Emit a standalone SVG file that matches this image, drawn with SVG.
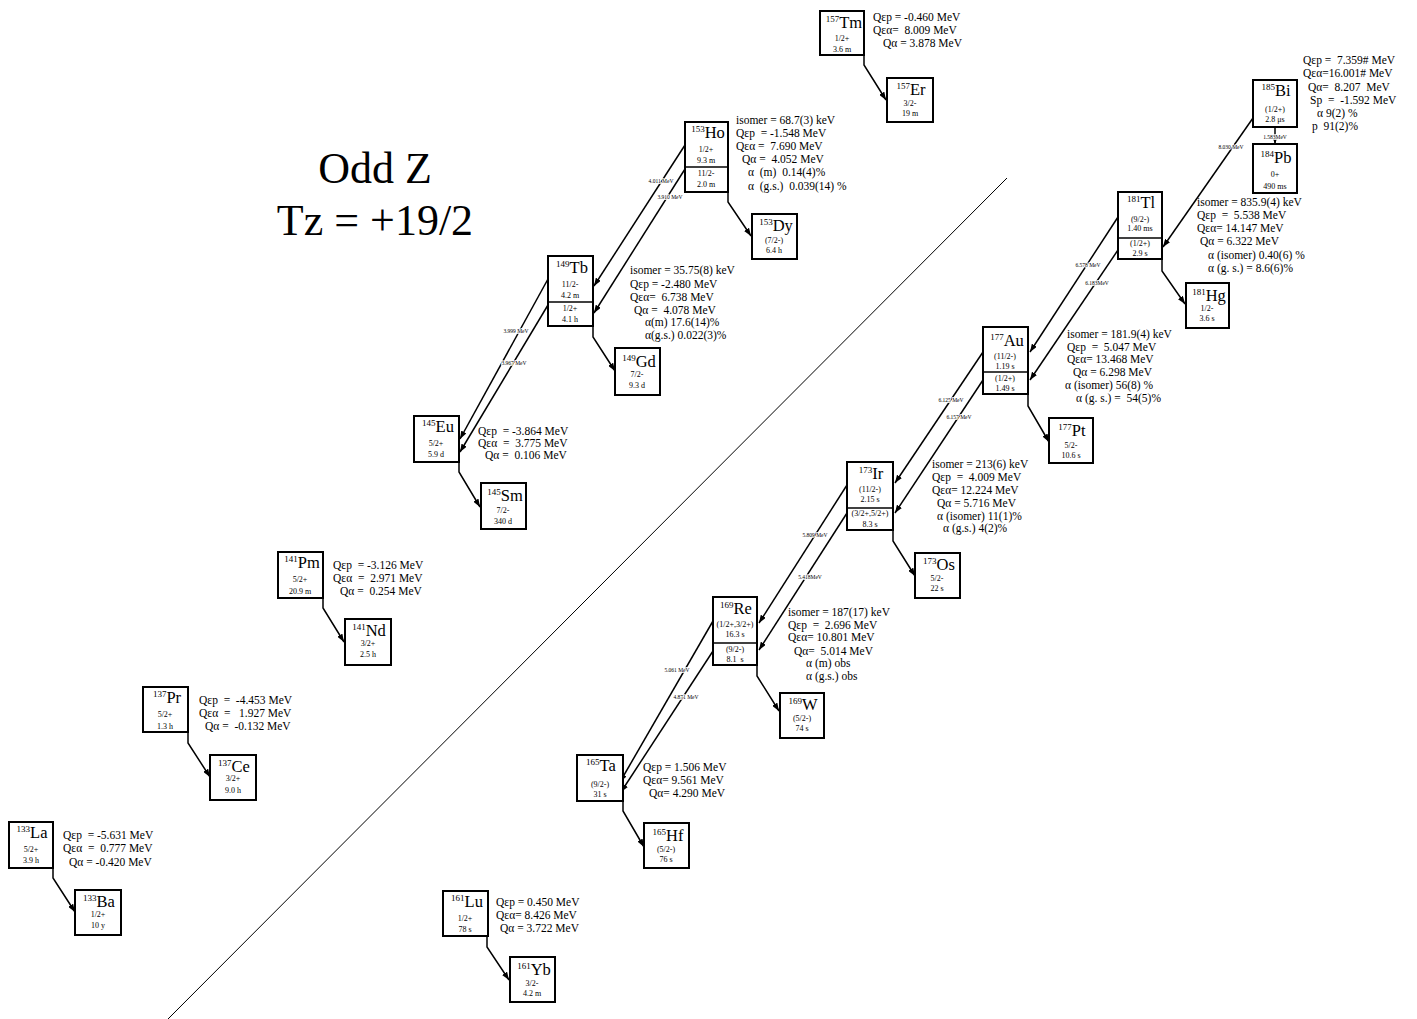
<svg xmlns="http://www.w3.org/2000/svg" width="1417" height="1019" viewBox="0 0 1417 1019">
<style>
text{font-family:"Liberation Serif","Times New Roman",serif;fill:#000;white-space:pre}
.box{fill:#fff;stroke:#000;stroke-width:2}
.dv{stroke:#000;stroke-width:1.5}
.el{font-size:16.5px;text-anchor:middle}
.ms{font-size:9px}
.sp{font-size:8px;text-anchor:middle}
.q{font-size:11.5px}
.lb{font-size:5.5px;text-anchor:middle;paint-order:stroke;stroke:#fff;stroke-width:1.5px}
.c{fill:none;stroke:#000;stroke-width:1.5;marker-end:url(#ah)}
.ref{stroke:#000;stroke-width:1}
.title{font-size:44px;text-anchor:middle}
</style>
<defs>
<marker id="ah" markerWidth="8" markerHeight="6" refX="8" refY="3" orient="auto" markerUnits="userSpaceOnUse"><path d="M0,0L8,3L0,6z" fill="#000"/></marker>
</defs>
<rect width="1417" height="1019" fill="#fff"/>
<line class="ref" x1="168" y1="1019" x2="1007" y2="178"/>
<text class="title" x="375" y="183">Odd Z</text>
<text class="title" x="375" y="235">Tz = +19/2</text>

<g id="connectors">
<polyline class="c" points="864,55 864,65 886,100"/>
<polyline class="c" points="728,192 728,202 751,236"/>
<polyline class="c" points="593,326 593,337 615,371"/>
<polyline class="c" points="459,462 459,472 480,507"/>
<polyline class="c" points="323,598 323,608 344,642"/>
<polyline class="c" points="188,732 188,743 210,777"/>
<polyline class="c" points="53,868 53,878 75,912"/>
<polyline class="c" points="487,936 487,947 509,980"/>
<polyline class="c" points="1162,259 1162,271 1185,304"/>
<polyline class="c" points="1028,394 1028,406 1049,442"/>
<polyline class="c" points="893,530 893,541 915,576"/>
<polyline class="c" points="757,665 757,676 779,711"/>
<polyline class="c" points="623,801 623,811 644,847"/>
<line class="c" x1="1275" y1="127" x2="1275" y2="144"/>
<line class="c" x1="1253" y1="118" x2="1163" y2="247"/>
<line class="c" x1="1118" y1="217" x2="1030" y2="352"/>
<line class="c" x1="1118" y1="250" x2="1030" y2="380"/>
<line class="c" x1="983" y1="352" x2="895" y2="483"/>
<line class="c" x1="983" y1="380" x2="895" y2="513"/>
<line class="c" x1="847" y1="485" x2="759" y2="623"/>
<line class="c" x1="847" y1="513" x2="759" y2="650"/>
<line class="c" x1="713" y1="621" x2="620" y2="782"/>
<line class="c" x1="713" y1="651" x2="621" y2="792"/>
<line class="c" x1="685" y1="145" x2="594" y2="286"/>
<line class="c" x1="685" y1="169" x2="594" y2="313"/>
<line class="c" x1="548" y1="279" x2="460" y2="439"/>
<line class="c" x1="548" y1="305" x2="460" y2="452"/>
<text class="lb" x="1275" y="139">1.583MeV</text>
<text class="lb" x="1231" y="149">8.030 MeV</text>
<text class="lb" x="1088" y="267">6.578 MeV</text>
<text class="lb" x="1097" y="285">6.183MeV</text>
<text class="lb" x="951" y="402">6.125 MeV</text>
<text class="lb" x="959" y="419">6.157 MeV</text>
<text class="lb" x="815" y="537">5.809 MeV</text>
<text class="lb" x="810" y="579">5.418MeV</text>
<text class="lb" x="677" y="672">5.061 MeV</text>
<text class="lb" x="686" y="699">4.871 MeV</text>
<text class="lb" x="661" y="183">4.011 MeV</text>
<text class="lb" x="670" y="199">3.910 MeV</text>
<text class="lb" x="516" y="333">3.999 MeV</text>
<text class="lb" x="514" y="365">3.967 MeV</text>
</g>

<g id="n-157Tm">
<rect class="box" x="820" y="11" width="44" height="44"/>
<text class="el" x="844" y="28"><tspan class="ms" dy="-6">157</tspan><tspan dy="6">Tm</tspan></text>
<text class="sp" x="842" y="41">1/2+</text>
<text class="sp" x="842" y="52">3.6 m</text>
<text class="q" x="873" y="21">Qεp = -0.460 MeV</text>
<text class="q" x="873" y="34">Qεα=  8.009 MeV</text>
<text class="q" x="883" y="47">Qα = 3.878 MeV</text>
</g>
<g id="n-157Er">
<rect class="box" x="887" y="78" width="46" height="44"/>
<text class="el" x="911" y="95"><tspan class="ms" dy="-6">157</tspan><tspan dy="6">Er</tspan></text>
<text class="sp" x="910" y="106">3/2-</text>
<text class="sp" x="910" y="116">19 m</text>
</g>

<g id="n-185Bi">
<rect class="box" x="1253" y="80" width="44" height="47"/>
<text class="el" x="1276" y="96"><tspan class="ms" dy="-6">185</tspan><tspan dy="6">Bi</tspan></text>
<text class="sp" x="1275" y="112">(1/2+)</text>
<text class="sp" x="1275" y="122">2.8 μs</text>
<text class="q" x="1303" y="64">Qεp =  7.359# MeV</text>
<text class="q" x="1303" y="77">Qεα=16.001# MeV</text>
<text class="q" x="1308" y="91">Qα=  8.207  MeV</text>
<text class="q" x="1310" y="104">Sp  =  -1.592 MeV</text>
<text class="q" x="1317" y="117">α 9(2) %</text>
<text class="q" x="1312" y="130">p  91(2)%</text>
</g>
<g id="n-184Pb">
<rect class="box" x="1253" y="144" width="44" height="49"/>
<text class="el" x="1276" y="163"><tspan class="ms" dy="-6">184</tspan><tspan dy="6">Pb</tspan></text>
<text class="sp" x="1275" y="177">0+</text>
<text class="sp" x="1275" y="189">490 ms</text>
</g>

<g id="n-153Ho">
<rect class="box" x="685" y="122" width="43" height="70"/>
<line class="dv" x1="685" y1="167" x2="728" y2="167"/>
<text class="el" x="708" y="138"><tspan class="ms" dy="-6">153</tspan><tspan dy="6">Ho</tspan></text>
<text class="sp" x="706" y="152">1/2+</text>
<text class="sp" x="706" y="163">9.3 m</text>
<text class="sp" x="706" y="176">11/2-</text>
<text class="sp" x="706" y="187">2.0 m</text>
<text class="q" x="736" y="124">isomer = 68.7(3) keV</text>
<text class="q" x="736" y="137">Qεp  = -1.548 MeV</text>
<text class="q" x="736" y="150">Qεα =  7.690 MeV</text>
<text class="q" x="742" y="163">Qα =  4.052 MeV</text>
<text class="q" x="748" y="176">α  (m)  0.14(4)%</text>
<text class="q" x="748" y="190">α  (g.s.)  0.039(14) %</text>
</g>
<g id="n-153Dy">
<rect class="box" x="752" y="214" width="45" height="45"/>
<text class="el" x="776" y="231"><tspan class="ms" dy="-6">153</tspan><tspan dy="6">Dy</tspan></text>
<text class="sp" x="774" y="243">(7/2-)</text>
<text class="sp" x="774" y="253">6.4 h</text>
</g>

<g id="n-149Tb">
<rect class="box" x="548" y="256" width="45" height="70"/>
<line class="dv" x1="548" y1="302" x2="593" y2="302"/>
<text class="el" x="572" y="273"><tspan class="ms" dy="-6">149</tspan><tspan dy="6">Tb</tspan></text>
<text class="sp" x="570" y="287">11/2-</text>
<text class="sp" x="570" y="298">4.2 m</text>
<text class="sp" x="570" y="311">1/2+</text>
<text class="sp" x="570" y="322">4.1 h</text>
<text class="q" x="630" y="274">isomer = 35.75(8) keV</text>
<text class="q" x="630" y="288">Qεp = -2.480 MeV</text>
<text class="q" x="630" y="301">Qεα=  6.738 MeV</text>
<text class="q" x="634" y="314">Qα =  4.078 MeV</text>
<text class="q" x="645" y="326">α(m) 17.6(14)%</text>
<text class="q" x="645" y="339">α(g.s.) 0.022(3)%</text>
</g>
<g id="n-149Gd">
<rect class="box" x="615" y="348" width="45" height="47"/>
<text class="el" x="639" y="367"><tspan class="ms" dy="-6">149</tspan><tspan dy="6">Gd</tspan></text>
<text class="sp" x="637" y="377">7/2-</text>
<text class="sp" x="637" y="388">9.3 d</text>
</g>

<g id="n-145Eu">
<rect class="box" x="414" y="416" width="45" height="46"/>
<text class="el" x="438" y="432"><tspan class="ms" dy="-6">145</tspan><tspan dy="6">Eu</tspan></text>
<text class="sp" x="436" y="446">5/2+</text>
<text class="sp" x="436" y="457">5.9 d</text>
<text class="q" x="478" y="435">Qεp  = -3.864 MeV</text>
<text class="q" x="478" y="447">Qεα  =  3.775 MeV</text>
<text class="q" x="485" y="459">Qα =  0.106 MeV</text>
</g>
<g id="n-145Sm">
<rect class="box" x="481" y="483" width="45" height="46"/>
<text class="el" x="505" y="501"><tspan class="ms" dy="-6">145</tspan><tspan dy="6">Sm</tspan></text>
<text class="sp" x="503" y="513">7/2-</text>
<text class="sp" x="503" y="524">340 d</text>
</g>

<g id="n-141Pm">
<rect class="box" x="278" y="552" width="45" height="46"/>
<text class="el" x="302" y="568"><tspan class="ms" dy="-6">141</tspan><tspan dy="6">Pm</tspan></text>
<text class="sp" x="300" y="582">5/2+</text>
<text class="sp" x="300" y="594">20.9 m</text>
<text class="q" x="333" y="569">Qεp  = -3.126 MeV</text>
<text class="q" x="333" y="582">Qεα  =  2.971 MeV</text>
<text class="q" x="340" y="595">Qα =  0.254 MeV</text>
</g>
<g id="n-141Nd">
<rect class="box" x="345" y="619" width="46" height="46"/>
<text class="el" x="369" y="636"><tspan class="ms" dy="-6">141</tspan><tspan dy="6">Nd</tspan></text>
<text class="sp" x="368" y="646">3/2+</text>
<text class="sp" x="368" y="657">2.5 h</text>
</g>

<g id="n-137Pr">
<rect class="box" x="143" y="687" width="45" height="45"/>
<text class="el" x="167" y="703"><tspan class="ms" dy="-6">137</tspan><tspan dy="6">Pr</tspan></text>
<text class="sp" x="165" y="717">5/2+</text>
<text class="sp" x="165" y="729">1.3 h</text>
<text class="q" x="199" y="704">Qεp  =  -4.453 MeV</text>
<text class="q" x="199" y="717">Qεα  =   1.927 MeV</text>
<text class="q" x="205" y="730">Qα =  -0.132 MeV</text>
</g>
<g id="n-137Ce">
<rect class="box" x="210" y="755" width="46" height="45"/>
<text class="el" x="234" y="772"><tspan class="ms" dy="-6">137</tspan><tspan dy="6">Ce</tspan></text>
<text class="sp" x="233" y="781">3/2+</text>
<text class="sp" x="233" y="793">9.0 h</text>
</g>

<g id="n-133La">
<rect class="box" x="9" y="822" width="44" height="46"/>
<text class="el" x="32" y="838"><tspan class="ms" dy="-6">133</tspan><tspan dy="6">La</tspan></text>
<text class="sp" x="31" y="852">5/2+</text>
<text class="sp" x="31" y="863">3.9 h</text>
<text class="q" x="63" y="839">Qεp  = -5.631 MeV</text>
<text class="q" x="63" y="852">Qεα  =  0.777 MeV</text>
<text class="q" x="69" y="866">Qα = -0.420 MeV</text>
</g>
<g id="n-133Ba">
<rect class="box" x="75" y="890" width="46" height="45"/>
<text class="el" x="99" y="907"><tspan class="ms" dy="-6">133</tspan><tspan dy="6">Ba</tspan></text>
<text class="sp" x="98" y="917">1/2+</text>
<text class="sp" x="98" y="928">10 y</text>
</g>

<g id="n-161Lu">
<rect class="box" x="443" y="891" width="45" height="45"/>
<text class="el" x="467" y="907"><tspan class="ms" dy="-6">161</tspan><tspan dy="6">Lu</tspan></text>
<text class="sp" x="465" y="921">1/2+</text>
<text class="sp" x="465" y="932">78 s</text>
<text class="q" x="496" y="906">Qεp = 0.450 MeV</text>
<text class="q" x="496" y="919">Qεα= 8.426 MeV</text>
<text class="q" x="500" y="932">Qα = 3.722 MeV</text>
</g>
<g id="n-161Yb">
<rect class="box" x="510" y="957" width="45" height="45"/>
<text class="el" x="534" y="975"><tspan class="ms" dy="-6">161</tspan><tspan dy="6">Yb</tspan></text>
<text class="sp" x="532" y="986">3/2-</text>
<text class="sp" x="532" y="996">4.2 m</text>
</g>

<g id="n-181Tl">
<rect class="box" x="1118" y="192" width="44" height="67"/>
<line class="dv" x1="1118" y1="238" x2="1162" y2="238"/>
<text class="el" x="1141" y="208"><tspan class="ms" dy="-6">181</tspan><tspan dy="6">Tl</tspan></text>
<text class="sp" x="1140" y="222">(9/2-)</text>
<text class="sp" x="1140" y="231">1.40 ms</text>
<text class="sp" x="1140" y="246">(1/2+)</text>
<text class="sp" x="1140" y="256">2.9 s</text>
<text class="q" x="1197" y="206">isomer = 835.9(4) keV</text>
<text class="q" x="1197" y="219">Qεp  =  5.538 MeV</text>
<text class="q" x="1197" y="232">Qεα= 14.147 MeV</text>
<text class="q" x="1200" y="245">Qα = 6.322 MeV</text>
<text class="q" x="1208" y="259">α (isomer) 0.40(6) %</text>
<text class="q" x="1208" y="272">α (g. s.) = 8.6(6)%</text>
</g>
<g id="n-181Hg">
<rect class="box" x="1186" y="283" width="43" height="45"/>
<text class="el" x="1209" y="301"><tspan class="ms" dy="-6">181</tspan><tspan dy="6">Hg</tspan></text>
<text class="sp" x="1207" y="311">1/2-</text>
<text class="sp" x="1207" y="321">3.6 s</text>
</g>

<g id="n-177Au">
<rect class="box" x="983" y="327" width="45" height="67"/>
<line class="dv" x1="983" y1="372" x2="1028" y2="372"/>
<text class="el" x="1007" y="346"><tspan class="ms" dy="-6">177</tspan><tspan dy="6">Au</tspan></text>
<text class="sp" x="1005" y="359">(11/2-)</text>
<text class="sp" x="1005" y="369">1.19 s</text>
<text class="sp" x="1005" y="381">(1/2+)</text>
<text class="sp" x="1005" y="391">1.49 s</text>
<text class="q" x="1067" y="338">isomer = 181.9(4) keV</text>
<text class="q" x="1067" y="351">Qεp  =  5.047 MeV</text>
<text class="q" x="1067" y="363">Qεα= 13.468 MeV</text>
<text class="q" x="1073" y="376">Qα = 6.298 MeV</text>
<text class="q" x="1065" y="389">α (isomer) 56(8) %</text>
<text class="q" x="1076" y="402">α (g. s.) =  54(5)%</text>
</g>
<g id="n-177Pt">
<rect class="box" x="1049" y="418" width="44" height="45"/>
<text class="el" x="1072" y="436"><tspan class="ms" dy="-6">177</tspan><tspan dy="6">Pt</tspan></text>
<text class="sp" x="1071" y="448">5/2-</text>
<text class="sp" x="1071" y="458">10.6 s</text>
</g>

<g id="n-173Ir">
<rect class="box" x="847" y="462" width="46" height="68"/>
<line class="dv" x1="847" y1="508" x2="893" y2="508"/>
<text class="el" x="871" y="479"><tspan class="ms" dy="-6">173</tspan><tspan dy="6">Ir</tspan></text>
<text class="sp" x="870" y="492">(11/2-)</text>
<text class="sp" x="870" y="502">2.15 s</text>
<text class="sp" x="870" y="516">(3/2+,5/2+)</text>
<text class="sp" x="870" y="527">8.3 s</text>
<text class="q" x="932" y="468">isomer = 213(6) keV</text>
<text class="q" x="932" y="481">Qεp  =  4.009 MeV</text>
<text class="q" x="932" y="494">Qεα= 12.224 MeV</text>
<text class="q" x="937" y="507">Qα = 5.716 MeV</text>
<text class="q" x="937" y="520">α (isomer) 11(1)%</text>
<text class="q" x="943" y="532">α (g.s.) 4(2)%</text>
</g>
<g id="n-173Os">
<rect class="box" x="915" y="553" width="45" height="45"/>
<text class="el" x="939" y="570"><tspan class="ms" dy="-6">173</tspan><tspan dy="6">Os</tspan></text>
<text class="sp" x="937" y="581">5/2-</text>
<text class="sp" x="937" y="591">22 s</text>
</g>

<g id="n-169Re">
<rect class="box" x="713" y="597" width="44" height="68"/>
<line class="dv" x1="713" y1="643" x2="757" y2="643"/>
<text class="el" x="736" y="614"><tspan class="ms" dy="-6">169</tspan><tspan dy="6">Re</tspan></text>
<text class="sp" x="735" y="627">(1/2+,3/2+)</text>
<text class="sp" x="735" y="637">16.3 s</text>
<text class="sp" x="735" y="652">(9/2-)</text>
<text class="sp" x="735" y="662">8.1  s</text>
<text class="q" x="788" y="616">isomer = 187(17) keV</text>
<text class="q" x="788" y="629">Qεp  =  2.696 MeV</text>
<text class="q" x="788" y="641">Qεα= 10.801 MeV</text>
<text class="q" x="794" y="655">Qα=  5.014 MeV</text>
<text class="q" x="806" y="667">α (m) obs</text>
<text class="q" x="806" y="680">α (g.s.) obs</text>
</g>
<g id="n-169W">
<rect class="box" x="780" y="693" width="44" height="45"/>
<text class="el" x="803" y="710"><tspan class="ms" dy="-6">169</tspan><tspan dy="6">W</tspan></text>
<text class="sp" x="802" y="721">(5/2-)</text>
<text class="sp" x="802" y="731">74 s</text>
</g>

<g id="n-165Ta">
<rect class="box" x="577" y="755" width="46" height="46"/>
<text class="el" x="601" y="771"><tspan class="ms" dy="-6">165</tspan><tspan dy="6">Ta</tspan></text>
<text class="sp" x="600" y="787">(9/2-)</text>
<text class="sp" x="600" y="797">31 s</text>
<text class="q" x="643" y="771">Qεp = 1.506 MeV</text>
<text class="q" x="643" y="784">Qεα= 9.561 MeV</text>
<text class="q" x="649" y="797">Qα= 4.290 MeV</text>
</g>
<g id="n-165Hf">
<rect class="box" x="644" y="823" width="45" height="45"/>
<text class="el" x="668" y="841"><tspan class="ms" dy="-6">165</tspan><tspan dy="6">Hf</tspan></text>
<text class="sp" x="666" y="852">(5/2-)</text>
<text class="sp" x="666" y="862">76 s</text>
</g>
</svg>
